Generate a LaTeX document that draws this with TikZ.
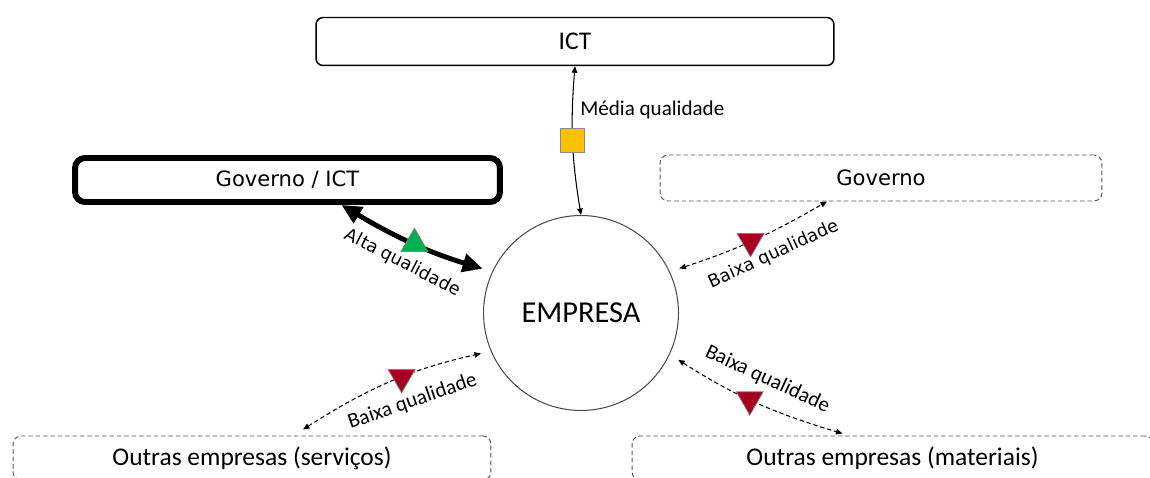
\documentclass[tikz,border=0pt]{standalone}
\usepackage{fontspec}
\setmainfont{Carlito}
\newfontfamily\dejavu{DejaVu Sans}
\usetikzlibrary{arrows.meta,calc,shapes.geometric}
\tikzset{>={Triangle[length=1.3mm,width=1.1mm]}}
\definecolor{altagreen}{RGB}{0,176,80}
\definecolor{mediayellow}{RGB}{255,192,0}
\definecolor{baixared}{RGB}{165,0,33}
\tikzstyle{actor}=[rectangle,draw=black,line width=0.85pt,rounded corners=0.14cm,minimum height=0.92cm,inner sep=0pt,font=\fontsize{14.5pt}{17pt}\selectfont]
\tikzstyle{strongactor}=[actor,line width=3.4pt,rounded corners=0.2cm,minimum height=0.88cm,font=\dejavu\fontsize{12pt}{14pt}\selectfont]
\tikzstyle{weakactor}=[actor,draw=black!65,line width=0.55pt,dash pattern=on 2.6pt off 1.6pt,rounded corners=0.16cm]
\tikzstyle{firm}=[circle,draw=black!70,line width=0.6pt,minimum size=3.9cm,inner sep=0pt,font=\fontsize{17.3pt}{20pt}\selectfont]
\tikzstyle{link}=[<->,line width=0.6pt]
\tikzstyle{weaklink}=[link,dash pattern=on 2.5pt off 1.6pt]
\tikzstyle{stronglink}=[{Triangle[length=4mm,width=3.6mm]}-{Triangle[length=4mm,width=3.6mm]},line width=2.8pt]
\tikzstyle{hightri}=[regular polygon,regular polygon sides=3,solid,fill=altagreen,draw=black!50,line width=0.4pt,minimum size=0.62cm,inner sep=0pt]
\tikzstyle{lowtri}=[hightri,fill=baixared,shape border rotate=180]
\tikzstyle{midsq}=[rectangle,solid,fill=mediayellow,draw=black!45,line width=0.4pt,minimum size=0.48cm,inner sep=0pt]
\tikzstyle{qlabel}=[inner sep=0pt,font=\fontsize{12pt}{14pt}\selectfont]
\tikzstyle{qlabelsans}=[inner sep=0pt,font=\dejavu\fontsize{10pt}{12pt}\selectfont]

\begin{document}
\begin{tikzpicture}[x=0.02cm,y=0.02cm]
	\useasboundingbox (0,0) rectangle (1150,477);
	\clip (0,0) rectangle (1150,477);

	\node[actor, minimum width=10.36cm, minimum height=0.96cm] (ict) at (575,435.5) {ICT};
	\node[strongactor, minimum width=8.5cm] (govict) at (287.5,297) {Governo / ICT};
	\node[weakactor, minimum width=8.84cm, font=\dejavu\fontsize{12pt}{14pt}\selectfont] (gov) at (881,299) {Governo};
	\node[weakactor, minimum width=9.56cm, minimum height=0.88cm] (outserv) at (252,19) {Outras empresas (serviços)};
	\node[weakactor, minimum width=10.42cm, minimum height=0.88cm] (outmat) at (892.5,19) {Outras empresas (materiais)};
	\node[firm] (empresa) at (581,164) {EMPRESA};

	% media
	\draw[link] (ict.south) to[bend right=7] node[midsq, pos=0.5] (medsq) {} (empresa.north);
	\node[qlabel, anchor=west] (medlab) at (580,367) {Média qualidade};

	% alta
	\draw[stronglink, shorten >=0.2cm] ($(govict.south)+(54,0)$) to[bend right=7] node[hightri, pos=0.5] (alttri) {} (empresa.155);
	\node[qlabelsans, rotate=-27] (altlab) at (402.7,214) {Alta qualidade};

	% baixa
	\draw[weaklink, shorten <=0.2cm] (empresa.25) to[bend right=6] node[lowtri, pos=0.5] (govtri) {} ($(gov.south)+(-54,0)$);
	\node[qlabelsans, rotate=24.6] (govlab) at (773.5,222.5) {Baixa qualidade};

	\draw[weaklink, shorten >=0.2cm] ($(outserv.north)+(51,6)$) to[bend left=10] node[lowtri, pos=0.55] (servtri) {} (empresa.203);
	\node[qlabel, rotate=19] (servlab) at (412.5,75.5) {Baixa qualidade};

	\draw[weaklink, shorten <=0.2cm] (empresa.-25) to[bend right=8] node[lowtri, pos=0.48] (mattri) {} ($(outmat.north)+(-50,2)$);
	\node[qlabel, rotate=-25] (matlab) at (767.5,97.5) {Baixa qualidade};

\end{tikzpicture}
\end{document}
